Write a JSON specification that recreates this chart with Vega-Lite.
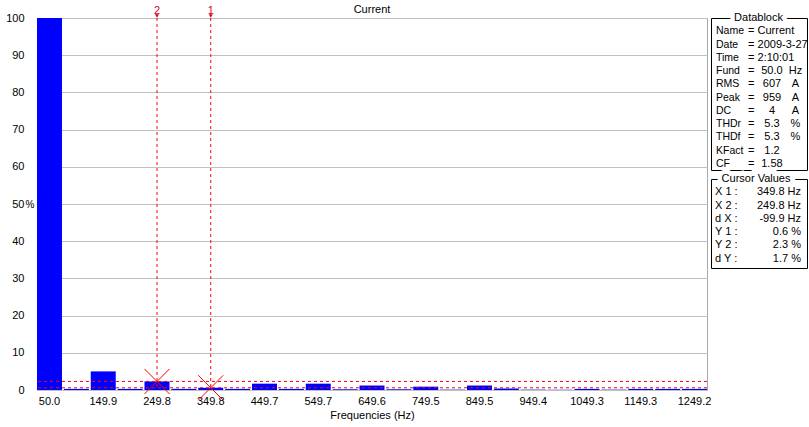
{
  "$schema": "https://vega.github.io/schema/vega-lite/v6.json",
  "padding": {"left": 5, "top": 3, "right": 0, "bottom": 0},
  "background": "white",
  "config": {
    "font": "Liberation Sans",
    "view": {"stroke": null},
    "axisY": {
      "tickCount": 10, "labelOverlap": false,
      "grid": true, "gridColor": "#c0c0c0", "ticks": false, "domain": false,
      "labelPadding": 13, "labelFontSize": 11, "labelColor": "black"
    }
  },
  "datasets": {
    "harmonics": [
      {"freq": "50.0", "pct": 100},
      {"freq": "99.9", "pct": 0.3},
      {"freq": "149.9", "pct": 5.0},
      {"freq": "199.9", "pct": 0.3},
      {"freq": "249.8", "pct": 2.3},
      {"freq": "299.8", "pct": 0.3},
      {"freq": "349.8", "pct": 0.6},
      {"freq": "399.7", "pct": 0.3},
      {"freq": "449.7", "pct": 1.7},
      {"freq": "499.7", "pct": 0.3},
      {"freq": "549.7", "pct": 1.7},
      {"freq": "599.6", "pct": 0.2},
      {"freq": "649.6", "pct": 1.2},
      {"freq": "699.6", "pct": 0.2},
      {"freq": "749.5", "pct": 0.9},
      {"freq": "799.5", "pct": 0.1},
      {"freq": "849.5", "pct": 1.2},
      {"freq": "899.4", "pct": 0.4},
      {"freq": "949.4", "pct": 0.1},
      {"freq": "999.4", "pct": 0.1},
      {"freq": "1049.3", "pct": 0.3},
      {"freq": "1099.3", "pct": 0.1},
      {"freq": "1149.3", "pct": 0.3},
      {"freq": "1199.2", "pct": 0.3},
      {"freq": "1249.2", "pct": 0.3}
    ],
    "cursors": [
      {"cursor": "1", "freq": "349.8", "pct": 0.6},
      {"cursor": "2", "freq": "249.8", "pct": 2.3}
    ],
    "datablock": [
      {"row": 0, "label": "Datablock", "kind": "header", "value": "", "unit": ""},
      {"row": 1, "label": "Name", "kind": "text", "value": "Current", "unit": ""},
      {"row": 2, "label": "Date", "kind": "text", "value": "2009-3-27", "unit": ""},
      {"row": 3, "label": "Time", "kind": "text", "value": "2:10:01", "unit": ""},
      {"row": 4, "label": "Fund", "kind": "num", "value": "50.0", "unit": "Hz"},
      {"row": 5, "label": "RMS", "kind": "num", "value": "607", "unit": "A"},
      {"row": 6, "label": "Peak", "kind": "num", "value": "959", "unit": "A"},
      {"row": 7, "label": "DC", "kind": "num", "value": "4", "unit": "A"},
      {"row": 8, "label": "THDr", "kind": "num", "value": "5.3", "unit": "%"},
      {"row": 9, "label": "THDf", "kind": "num", "value": "5.3", "unit": "%"},
      {"row": 10, "label": "KFact", "kind": "num", "value": "1.2", "unit": ""},
      {"row": 11, "label": "CF", "kind": "num", "value": "1.58", "unit": ""}
    ],
    "cursorvals": [
      {"row": 0, "label": "Cursor Values", "kind": "header", "value": ""},
      {"row": 1, "label": "X 1 :", "kind": "item", "value": "349.8 Hz"},
      {"row": 2, "label": "X 2 :", "kind": "item", "value": "249.8 Hz"},
      {"row": 3, "label": "d X :", "kind": "item", "value": "-99.9 Hz"},
      {"row": 4, "label": "Y 1 :", "kind": "item", "value": "0.6 %"},
      {"row": 5, "label": "Y 2 :", "kind": "item", "value": "2.3 %"},
      {"row": 6, "label": "d Y :", "kind": "item", "value": "1.7 %"}
    ]
  },
  "spacing": 4,
  "bounds": "flush",
  "hconcat": [
    {
      "width": 670,
      "height": 372,
      "view": {"stroke": "#a8a8a8"},
      "title": {"text": "Current", "fontSize": 11, "fontWeight": "normal", "offset": -10, "anchor": "middle", "color": "black"},
      "layer": [
        {
          "data": {"name": "harmonics"},
          "mark": {"type": "bar", "color": "#0000ff"},
          "encoding": {
            "x": {
              "field": "freq", "type": "nominal",
              "scale": {
                "domain": ["50.0","99.9","149.9","199.9","249.8","299.8","349.8","399.7","449.7","499.7","549.7","599.6","649.6","699.6","749.5","799.5","849.5","899.4","949.4","999.4","1049.3","1099.3","1149.3","1199.2","1249.2"],
                "paddingInner": 0.07, "paddingOuter": 0
              },
              "axis": {
                "values": ["50.0","149.9","249.8","349.8","449.7","549.7","649.6","749.5","849.5","949.4","1049.3","1149.3","1249.2"],
                "labelAngle": 0, "ticks": false, "domain": false, "grid": false,
                "labelPadding": 5, "labelFontSize": 11, "labelColor": "black",
                "titleFontSize": 11, "titleFontWeight": "normal", "titleColor": "black", "titlePadding": 3
              },
              "title": "Frequencies (Hz)"
            },
            "y": {
              "field": "pct", "type": "quantitative",
              "scale": {"domain": [0, 100], "nice": false},
              "axis": {
                "title": "%", "titleAngle": 0, "titleX": -7.5, "titleY": 186,
                "titleAlign": "center", "titleBaseline": "middle",
                "titleFontSize": 10, "titleFontWeight": "normal", "titleColor": "black"
              }
            }
          }
        },
        {
          "data": {"name": "cursors"},
          "mark": {"type": "rule", "color": "#ff0000", "strokeDash": [3, 3], "strokeWidth": 1},
          "encoding": {"y": {"field": "pct", "type": "quantitative"}}
        },
        {
          "data": {"name": "cursors"},
          "mark": {"type": "rule", "color": "#ff0000", "strokeDash": [3, 3], "strokeWidth": 1},
          "encoding": {"x": {"field": "freq", "type": "nominal"}}
        },
        {
          "data": {"name": "cursors"},
          "mark": {"type": "point", "shape": "M -1 -1 L 1 1 M -1 1 L 1 -1", "filled": false, "color": "#ff0000", "strokeWidth": 1, "size": 625, "opacity": 1},
          "encoding": {
            "x": {"field": "freq", "type": "nominal"},
            "y": {"field": "pct", "type": "quantitative"}
          }
        },
        {
          "data": {"name": "cursors"},
          "mark": {"type": "point", "shape": "triangle-down", "filled": true, "color": "#dd0022", "size": 16, "yOffset": -2, "opacity": 1},
          "encoding": {
            "x": {"field": "freq", "type": "nominal"},
            "y": {"datum": 100, "type": "quantitative"}
          }
        },
        {
          "data": {"name": "cursors"},
          "mark": {"type": "text", "color": "#dd0022", "fontSize": 11, "baseline": "alphabetic", "dy": -4},
          "encoding": {
            "x": {"field": "freq", "type": "nominal"},
            "y": {"datum": 100, "type": "quantitative"},
            "text": {"field": "cursor"}
          }
        }
      ]
    },
    {
      "spacing": 9,
      "bounds": "flush",
      "vconcat": [
        {
          "width": 96,
          "height": 152,
          "view": {"stroke": "black"},
          "data": {"name": "datablock"},
          "encoding": {
            "y": {"field": "row", "type": "quantitative", "scale": {"domain": [0, 11.45], "reverse": true, "zero": false, "nice": false}, "axis": null}
          },
          "layer": [
            {
              "transform": [{"filter": "datum.kind == 'header'"}],
              "mark": {"type": "text", "fontSize": 11, "baseline": "middle", "align": "center", "fill": "white", "stroke": "white", "strokeWidth": 9},
              "encoding": {
                "x": {"datum": 49.5, "type": "quantitative", "scale": {"domain": [0, 100], "nice": false, "zero": false}, "axis": null},
                "text": {"field": "label"}
              }
            },
            {
              "transform": [{"filter": "datum.kind == 'header'"}],
              "mark": {"type": "text", "fontSize": 11, "baseline": "middle", "align": "center", "color": "black"},
              "encoding": {"x": {"datum": 49.5, "type": "quantitative"}, "text": {"field": "label"}}
            },
            {
              "transform": [{"filter": "datum.kind != 'header'"}],
              "mark": {"type": "text", "fontSize": 10.5, "baseline": "middle", "align": "left", "color": "black"},
              "encoding": {"x": {"datum": 5.2, "type": "quantitative"}, "text": {"field": "label"}}
            },
            {
              "transform": [{"filter": "datum.kind != 'header'"}],
              "mark": {"type": "text", "fontSize": 11, "baseline": "middle", "align": "center", "color": "black"},
              "encoding": {"x": {"datum": 42, "type": "quantitative"}, "text": {"value": "="}}
            },
            {
              "transform": [{"filter": "datum.kind == 'text'"}],
              "mark": {"type": "text", "fontSize": 11, "baseline": "middle", "align": "left", "color": "black"},
              "encoding": {"x": {"datum": 48.5, "type": "quantitative"}, "text": {"field": "value"}}
            },
            {
              "transform": [{"filter": "datum.kind == 'num'"}],
              "mark": {"type": "text", "fontSize": 11, "baseline": "middle", "align": "center", "color": "black"},
              "encoding": {"x": {"datum": 63.5, "type": "quantitative"}, "text": {"field": "value"}}
            },
            {
              "transform": [{"filter": "datum.kind == 'num'"}],
              "mark": {"type": "text", "fontSize": 11, "baseline": "middle", "align": "center", "color": "black"},
              "encoding": {"x": {"datum": 88, "type": "quantitative"}, "text": {"field": "unit"}}
            }
          ]
        },
        {
          "width": 96,
          "height": 89,
          "view": {"stroke": "black"},
          "data": {"name": "cursorvals"},
          "encoding": {
            "y": {"field": "row", "type": "quantitative", "scale": {"domain": [0, 6.7], "reverse": true, "zero": false, "nice": false}, "axis": null}
          },
          "layer": [
            {
              "transform": [{"filter": "datum.kind == 'header'"}],
              "mark": {"type": "text", "fontSize": 11, "baseline": "middle", "align": "center", "fill": "white", "stroke": "white", "strokeWidth": 9},
              "encoding": {
                "x": {"datum": 46.9, "type": "quantitative", "scale": {"domain": [0, 100], "nice": false, "zero": false}, "axis": null},
                "text": {"field": "label"}
              }
            },
            {
              "transform": [{"filter": "datum.kind == 'header'"}],
              "mark": {"type": "text", "fontSize": 11, "baseline": "middle", "align": "center", "color": "black"},
              "encoding": {"x": {"datum": 46.9, "type": "quantitative"}, "text": {"field": "label"}}
            },
            {
              "transform": [{"filter": "datum.kind == 'item'"}],
              "mark": {"type": "text", "fontSize": 11, "baseline": "middle", "align": "left", "color": "black"},
              "encoding": {"x": {"datum": 4.2, "type": "quantitative"}, "text": {"field": "label"}}
            },
            {
              "transform": [{"filter": "datum.kind == 'item'"}],
              "mark": {"type": "text", "fontSize": 11, "baseline": "middle", "align": "right", "color": "black"},
              "encoding": {"x": {"datum": 93.75, "type": "quantitative"}, "text": {"field": "value"}}
            }
          ]
        }
      ]
    }
  ]
}
